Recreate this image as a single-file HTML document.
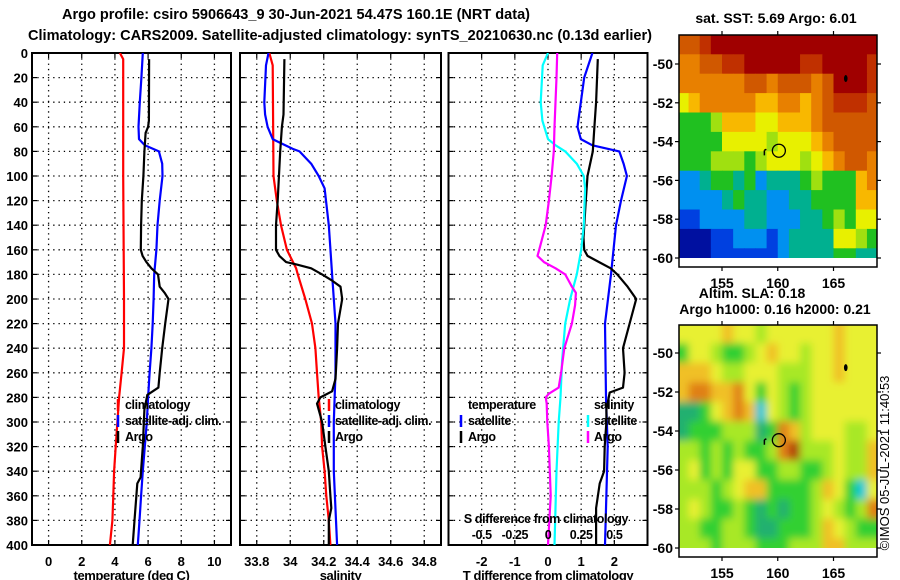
<!DOCTYPE html>
<html><head><meta charset="utf-8"><style>
html,body{margin:0;padding:0;background:#fff;}
svg{display:block;font-family:"Liberation Sans",sans-serif;font-weight:bold;}
.leg{letter-spacing:-0.4px;}
</style></head><body>
<svg id="chart" width="900" height="580" viewBox="0 0 900 580" xmlns="http://www.w3.org/2000/svg">
<defs>
<clipPath id="clipT"><rect x="32" y="53" width="199" height="492"/></clipPath>
<clipPath id="clipS"><rect x="240" y="53" width="201" height="492"/></clipPath>
<clipPath id="clipD"><rect x="448.5" y="53" width="199" height="492"/></clipPath>
<clipPath id="clipM1"><rect x="679" y="35" width="198" height="223"/></clipPath>
<clipPath id="clipM2"><rect x="679" y="325" width="198" height="223"/></clipPath>
<filter id="blur" x="-5%" y="-5%" width="110%" height="110%"><feGaussianBlur stdDeviation="4"/></filter>
</defs>
<text x="62" y="19" font-size="15" textLength="468" lengthAdjust="spacingAndGlyphs">Argo profile: csiro 5906643_9 30-Jun-2021 54.47S 160.1E (NRT data)</text>
<text x="28" y="40" font-size="15" textLength="624" lengthAdjust="spacingAndGlyphs">Climatology: CARS2009. Satellite-adjusted climatology: synTS_20210630.nc (0.13d earlier)</text>
<g id="g"></g>
</svg>
<script>
// ---------- data ----------
const tClimDepth = [0,5,100,200,240,260,280,300,320,340,360,380,400];
const tClim = [4.3,4.5,4.5,4.55,4.55,4.4,4.25,4.15,4.05,3.95,3.9,3.85,3.7];
const tSatDepth = [0,20,40,60,70,75,80,90,100,120,140,160,180,200,220,240,260,280,300,320,340,360,380,400];
const tSat = [5.68,5.6,5.5,5.42,5.45,5.8,6.65,6.85,6.87,6.7,6.57,6.5,6.37,6.33,6.28,6.2,6.09,6.0,5.92,5.8,5.68,5.58,5.48,5.38];
const tArgoDepth = [5,55,60,65,80,100,120,140,160,165,170,175,180,190,195,200,220,240,260,272,278,290,320,345,350,380,400];
const tArgo = [6.06,6.05,6.0,5.85,5.78,5.72,5.62,5.58,5.56,5.67,5.9,6.2,6.6,6.7,7.0,7.23,7.03,6.85,6.7,6.62,5.95,5.78,5.68,5.55,5.35,5.18,5.07];

const sClimDepth = [0,10,100,120,140,160,175,180,200,220,240,260,280,300,320,340,360,380,400];
const sClim = [33.875,33.895,33.9,33.92,33.945,33.98,34.035,34.045,34.09,34.13,34.15,34.16,34.17,34.185,34.19,34.205,34.215,34.23,34.24];
const sSatDepth = [0,10,40,50,60,70,72,78,80,90,100,110,140,180,220,260,300,340,400];
const sSat = [33.87,33.855,33.845,33.85,33.865,33.895,33.925,34.015,34.055,34.125,34.17,34.205,34.23,34.25,34.27,34.27,34.26,34.26,34.28];
const sArgoDepth = [5,50,60,80,120,140,160,165,170,172,175,180,185,190,200,220,240,265,275,280,285,290,300,320,340,360,370,380,400];
const sArgo = [33.965,33.96,33.95,33.94,33.925,33.915,33.915,33.935,33.975,34.04,34.125,34.19,34.25,34.3,34.31,34.285,34.28,34.27,34.25,34.18,34.16,34.17,34.19,34.21,34.23,34.24,34.245,34.23,34.23];

const dTSatDepth = [0,20,60,70,75,80,90,100,120,140,180,220,280,320,400];
const dTSat = [1.34,1.09,0.89,0.99,1.34,2.15,2.28,2.38,2.2,2.05,1.9,1.72,1.75,1.8,1.72];
const dTArgoDepth = [5,40,60,80,100,120,150,160,165,170,175,180,190,200,220,240,260,272,276,290,300,320,340,350,370,400];
const dTArgo = [1.5,1.45,1.4,1.35,1.19,1.14,1.07,1.09,1.19,1.54,1.89,2.09,2.4,2.66,2.46,2.26,2.31,2.26,1.86,1.76,1.76,1.71,1.69,1.56,1.45,1.45];
const dSSatDepth = [0,10,40,55,70,75,80,90,100,110,140,160,180,200,220,250,280,300,340,400];
const dSSat = [0,-0.04,-0.055,-0.042,0,0.057,0.13,0.217,0.27,0.28,0.27,0.25,0.217,0.167,0.13,0.106,0.094,0.081,0.064,0.049];
const dSArgoDepth = [0,20,60,80,100,120,140,160,165,170,175,180,185,190,195,205,220,240,260,272,277,280,285,300,320,360,400];
const dSArgo = [0.069,0.064,0.049,0.044,0.027,0.007,-0.017,-0.066,-0.079,-0.03,0.057,0.13,0.155,0.18,0.21,0.204,0.18,0.123,0.099,0.081,0.007,-0.017,-0.01,-0.005,0.007,0.02,0];

const depthTicks = [0,20,40,60,80,100,120,140,160,180,200,220,240,260,280,300,320,340,360,380,400];
const tTicks = [0,2,4,6,8,10];
const sTicks = [33.8,34,34.2,34.4,34.6,34.8];
const sTickLabels = ["33.8","34","34.2","34.4","34.6","34.8"];
const dTTicks = [-2,-1,0,1,2];
const dSTicks = [-0.5,-0.25,0,0.25,0.5];
const dSTickLabels = ["-0.5","-0.25","0","0.25","0.5"];

// SST map colour levels (rows lat -49..-60, cols lon 151..168)
const sstGrid = [
[8,8,9,10,10,10,10,10,10,10,10,10,10,10,10,10,10,10],
[7,7,8,8,9,9,10,10,10,10,10,9,9,10,10,10,10,9],
[7,7,7,7,7,7,8,8,7,8,8,8,7,8,10,10,10,9],
[5,6,7,7,7,7,7,6,6,7,7,6,7,8,9,9,9,8],
[3,3,3,4,6,6,6,5,5,6,6,6,7,8,8,8,8,8],
[3,3,3,3,5,5,5,5,4,5,5,5,6,7,8,8,8,8],
[3,3,3,4,4,4,3,4,5,5,5,4,5,6,7,8,8,7],
[1,1,2,3,3,2,3,1,2,2,2,3,4,3,3,3,6,7],
[1,1,1,1,2,3,2,2,1,1,2,2,3,3,3,3,6,6],
[0,0,1,1,1,1,2,2,1,1,1,2,2,3,4,3,5,5],
[-1,-1,-1,0,0,1,1,1,0,1,2,2,2,2,5,5,4,3],
[-1,-1,-1,0,0,0,0,0,0,1,2,2,2,2,3,3,2,2]];
const slaGrid = [
[4,4,4,4,5,4,4,3,4,4,4,4,4,4,5,4,4,4],
[2,4,4,3,2,2,3,4,5,4,4,3,4,4,5,4,4,4],
[5,5,5,4,3,3,4,4,4,3,3,3,4,4,5,4,4,4],
[5,6,6,5,5,6,4,2,4,3,2,3,4,4,4,4,4,4],
[1,1,2,4,5,6,5,0,4,3,2,3,4,4,4,4,4,4],
[1,2,2,2,3,3,3,1,2,6,5,3,4,4,4,3,3,4],
[3,3,2,3,2,3,2,2,3,6,7,3,3,3,4,3,3,5],
[3,4,2,3,2,4,4,2,2,3,3,2,2,3,4,3,3,5],
[3,3,3,2,3,4,5,5,2,2,2,2,3,5,4,2,0,4],
[3,4,3,2,2,3,2,1,2,1,2,2,3,4,3,2,3,6],
[3,3,2,2,3,3,2,1,1,2,2,2,3,5,4,3,2,2],
[3,3,3,2,3,3,3,2,2,2,3,3,3,5,5,3,3,3]];
const mapLonTicks = [155,160,165];
const mapLatTicks = [-50,-52,-54,-56,-58,-60];
const argoLon = 160.1, argoLat = -54.47;

// ---------- helpers ----------
const NS = "http://www.w3.org/2000/svg";
const G = document.getElementById('g');
function mk(tag, attrs, parent){const e=document.createElementNS(NS,tag);for(const k in attrs)e.setAttribute(k,attrs[k]);(parent||G).appendChild(e);return e;}
const Y0=53, Y1=545;
const yD = d => Y0 + d*(Y1-Y0)/400;
const xT = t => 32 + (t+1)*199/12;
const xS = s => 240 + (s-33.7)*201/1.2;
const xDT = t => 448.5 + (t+3)*199/6;
const xDS = s => xDT(s*4);

function panel(name,x0,x1,ticks,fx,labels,title){
  const grp=mk('g',{});
  
  
  depthTicks.forEach(d=>{ if(d>0&&d<400){const l=mk('line',{x1:x0,x2:x1,y1:yD(d),y2:yD(d),stroke:'#000','stroke-width':1.3,'stroke-dasharray':'1.3,4'},grp);
     }
    mk('line',{x1:x0,x2:x0+5,y1:yD(d),y2:yD(d),stroke:'#000','stroke-width':1.2},grp);
    mk('line',{x1:x1-5,x2:x1,y1:yD(d),y2:yD(d),stroke:'#000','stroke-width':1.2},grp);
  });
  ticks.forEach((t,i)=>{const x=fx(t);
    const l=mk('line',{x1:x,x2:x,y1:Y0,y2:Y1,stroke:'#000','stroke-width':1.3,'stroke-dasharray':'1.3,4'},grp);
     
    mk('line',{x1:x,x2:x,y1:Y1-5,y2:Y1,stroke:'#000','stroke-width':1.2},grp);
    mk('line',{x1:x,x2:x,y1:Y0,y2:Y0+5,stroke:'#000','stroke-width':1.2},grp);
    const tx=mk('text',{x:x,y:566,'font-size':13,'text-anchor':'middle'},grp); tx.textContent=labels[i];
     
  });
  const r=mk('rect',{x:x0,y:Y0,width:x1-x0,height:Y1-Y0,fill:'none',stroke:'#000','stroke-width':2},grp);
   
  const tt=mk('text',{x:(x0+x1)/2,y:580,'font-size':13,'text-anchor':'middle','class':'leg'},grp); tt.textContent=title;
   
}
function line(name,depths,vals,fx,color,clip){
  const pts=depths.map((d,i)=>fx(vals[i]).toFixed(1)+','+yD(d).toFixed(1)).join(' ');
  const p=mk('polyline',{points:pts,fill:'none',stroke:color,'stroke-width':2.2,'stroke-linejoin':'round','clip-path':'url(#'+clip+')'});
  
  
}
function txt(name,x,y,s,size,anchor,color){const t=mk('text',{x:x,y:y,'font-size':size||13,'text-anchor':anchor||'start',fill:color||'#000'});t.textContent=s;
  
  
  return t;}
function ltxt(name,x,y,s,anchor){const t=txt(name,x,y,s,12.5,anchor);t.setAttribute('class','leg');return t;}
function mark(x,y,color){const m=mk('line',{x1:x,x2:x,y1:y-6,y2:y+6,stroke:color,'stroke-width':2.5});
  
  }

depthTicks.forEach(d=>{txt('y-tick-label',28,yD(d)+5,String(d),13,'end');});

panel('temperature-panel',32,231,tTicks,xT,tTicks.map(String),'temperature (deg C)');
panel('salinity-panel',240,441,sTicks,xS,sTickLabels,'salinity');
panel('difference-panel',448.5,647.5,dTTicks,xDT,dTTicks.map(String),'T difference from climatology');

line('temp-climatology-line',tClimDepth,tClim,xT,'#f00','clipT');
line('temp-satellite-line',tSatDepth,tSat,xT,'#00f','clipT');
line('temp-argo-line',tArgoDepth,tArgo,xT,'#000','clipT');
line('sal-climatology-line',sClimDepth,sClim,xS,'#f00','clipS');
line('sal-satellite-line',sSatDepth,sSat,xS,'#00f','clipS');
line('sal-argo-line',sArgoDepth,sArgo,xS,'#000','clipS');
line('dT-satellite-line',dTSatDepth,dTSat,xDT,'#00f','clipD');
line('dT-argo-line',dTArgoDepth,dTArgo,xDT,'#000','clipD');
line('dS-satellite-line',dSSatDepth,dSSat,xDS,'#0ff','clipD');
line('dS-argo-line',dSArgoDepth,dSArgo,xDS,'#f0f','clipD');

const LY=[409,425,441];
mark(118,LY[0]-4,'#f00');mark(118,LY[1]-4,'#00f');mark(118,LY[2]-4,'#000');
ltxt('legend-climatology',125,LY[0],'climatology');ltxt('legend-satellite-adj',125,LY[1],'satellite-adj. clim.');ltxt('legend-argo',125,LY[2],'Argo');
mark(329,LY[0]-4,'#f00');mark(329,LY[1]-4,'#00f');mark(329,LY[2]-4,'#000');
ltxt('legend-climatology',335,LY[0],'climatology');ltxt('legend-satellite-adj',335,LY[1],'satellite-adj. clim.');ltxt('legend-argo',335,LY[2],'Argo');
ltxt('legend-temperature-header',468,LY[0],'temperature');
mark(461,LY[1]-4,'#00f');mark(461,LY[2]-4,'#000');
ltxt('legend-t-satellite',468,LY[1],'satellite');ltxt('legend-t-argo',468,LY[2],'Argo');
ltxt('legend-salinity-header',594,LY[0],'salinity');
mark(588,LY[1]-4,'#0ff');mark(588,LY[2]-4,'#f0f');
ltxt('legend-s-satellite',594,LY[1],'satellite');ltxt('legend-s-argo',594,LY[2],'Argo');
ltxt('s-axis-title',546,523,'S difference from climatology','middle');
dSTicks.forEach((s,i)=>{ltxt('s-tick-label',xDS(s),539,dSTickLabels[i],'middle');});

// maps
const sstColors={'-1':'#0010a0','0':'#0040e0','1':'#0090f0','2':'#00b090','3':'#20c020','4':'#a0e010','5':'#e8f000','6':'#f8b800','7':'#e88000','8':'#d05800','9':'#c03000','10':'#a00000'};
const slaColors={'0':'#00c8d8','1':'#20b070','2':'#30d030','3':'#a8e828','4':'#e8f030','5':'#f0c028','6':'#e08018','7':'#b04010'};
const mx = lon => 722 + (lon-155)*111.5/10;
function drawMap(name,grid,colors,latY,clip,blur){
  const grp=mk('g',{'clip-path':'url(#'+clip+')'});
  
  
  const inner=mk('g',blur?{filter:'url(#blur)'}:{},grp);
  grid.forEach((row,r)=>row.forEach((v,c)=>{
    const lat=-48.5-r, lon=151+c;
    const x0=mx(lon)-(c===0?15:0), x1=mx(lon+1)+(c===17?15:0);
    const y0=latY(lat)-(r===0?15:0), y1=latY(lat-1)+(r===11&&blur?15:0);
    const cell=mk('rect',{x:x0,y:y0,width:x1-x0+0.5,height:y1-y0+0.5,fill:colors[String(v)]},inner);
    
    
  }));
}
const my1 = lat => 64 + (-50-lat)*19.4;
const my2 = lat => 353 + (-50-lat)*19.5;
drawMap('sst-map',sstGrid,sstColors,my1,'clipM1',false);
drawMap('sla-map',slaGrid,slaColors,my2,'clipM2',true);
function mapFrame(name,top,bottom,latY,labelY){
  const grp=mk('g',{});
  
  
  mk('rect',{x:679,y:top,width:198,height:bottom-top,fill:'none',stroke:'#000','stroke-width':1.5},grp);
  mapLonTicks.forEach(l=>{const x=mx(l);
    mk('line',{x1:x,x2:x,y1:top-4,y2:top,stroke:'#000','stroke-width':1.2},grp);
    mk('line',{x1:x,x2:x,y1:bottom,y2:bottom+4,stroke:'#000','stroke-width':1.2},grp);
    const t=mk('text',{x:x,y:labelY,'font-size':14,'text-anchor':'middle'},grp);t.textContent=String(l);
    });
  mapLatTicks.forEach(l=>{const y=latY(l);
    mk('line',{x1:675,x2:679,y1:y,y2:y,stroke:'#000','stroke-width':1.2},grp);
    mk('line',{x1:877,x2:881,y1:y,y2:y,stroke:'#000','stroke-width':1.2},grp);
    const t=mk('text',{x:673,y:y+5,'font-size':14,'text-anchor':'end'},grp);t.textContent=String(l);
    });
  const c=mk('circle',{cx:mx(argoLon),cy:latY(argoLat),r:6.5,fill:'none',stroke:'#000','stroke-width':1.3},grp);
  
  mk('path',{d:'M'+(mx(158.8))+' '+(latY(-54.45))+' l0 5 M'+mx(158.8)+' '+latY(-54.45)+' l2 -1',stroke:'#000','stroke-width':1.5,fill:'none'},grp);
  mk('ellipse',{cx:mx(166.1),cy:latY(-50.75),rx:1.8,ry:3.5,fill:'#000'},grp);
}
mapFrame('sst-map-frame',35,267,my1,288);
mapFrame('sla-map-frame',325,557,my2,578);
txt('sst-map-title',776,23,'sat. SST: 5.69 Argo: 6.01',14,'middle');
txt('sla-map-title',752,298,'Altim. SLA: 0.18',14,'middle');
txt('sla-map-subtitle',775,314,'Argo h1000: 0.16 h2000: 0.21',14,'middle');
const cr=txt('imos-timestamp',0,0,'©IMOS 05-JUL-2021 11:40:53',13,'middle');
cr.setAttribute('transform','translate(889,463) rotate(-90)');
cr.setAttribute('font-weight','normal');
</script>
</body></html>
